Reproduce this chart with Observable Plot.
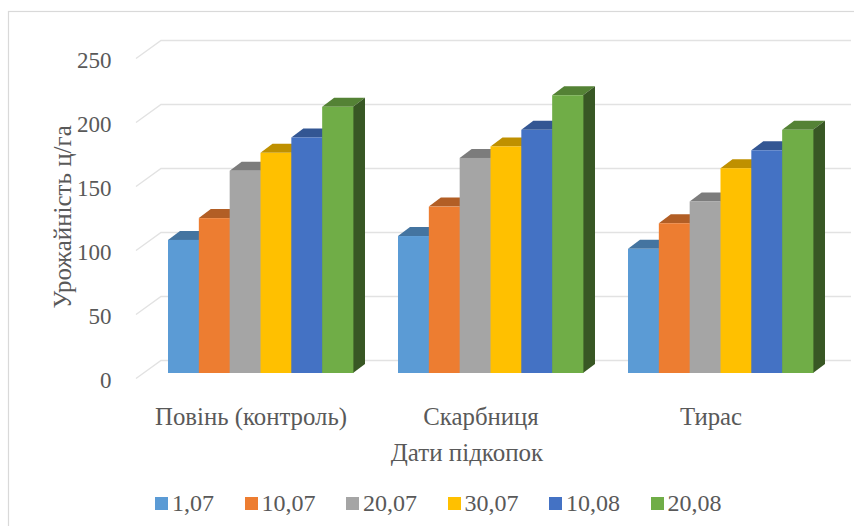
<!DOCTYPE html>
<html lang="uk">
<head>
<meta charset="utf-8">
<script src="https://cdn.jsdelivr.net/npm/d3@7"></script>
<script src="https://cdn.jsdelivr.net/npm/@observablehq/plot@0.6"></script>
<style>
  html, body { margin: 0; padding: 0; background: #fff; }
  #chart { position: relative; width: 854px; height: 526px; overflow: hidden; }
  #legend { position: absolute; left: 155px; top: 491px; display: flex; gap: 30.5px;
    font: 24px "Liberation Serif", serif; color: #595959; line-height: 24px; }
  #legend .item { display: flex; align-items: center; gap: 4px; }
  #legend .swatch { width: 13px; height: 13px; display: inline-block; }
</style>
</head>
<body>
<div id="chart"></div>
<script>
const groups = ["Повінь (контроль)", "Скарбниця", "Тирас"];
const series = ["1,07", "10,07", "20,07", "30,07", "10,08", "20,08"];
const colors = ["#5B9BD5", "#ED7D31", "#A5A5A5", "#FFC000", "#4472C4", "#70AD47"];
const povin = [104, 121, 158, 172, 184, 208];
const skarbnytsia = [107, 130, 168, 177, 190, 217];
const tyras = [97, 117, 134, 160, 174, 190];
const yTicks = [0, 50, 100, 150, 200, 250];
const yLabel = "Урожайність ц/га";
const xLabel = "Дати підкопок";

const table = [povin, skarbnytsia, tyras].flatMap((vals, g) =>
  vals.map((value, s) => ({group: groups[g], series: series[s], value})));

const FONT = "Liberation Serif, serif";
const TEXT = "#595959";
const depth = {x: 12, y: 9};
const wall = {x: 25, y: 18};

function bars3d(index, scales, values) {
  const g = d3.create("svg:g");
  const w = scales.x.bandwidth();
  for (const i of index) {
    const x = values.x[i], x2 = x + w;
    const yTop = Math.min(values.y1[i], values.y2[i]);
    const base = Math.max(values.y1[i], values.y2[i]);
    const c = d3.rgb(values.fill[i]);
    const shade = k => d3.rgb(c.r * k, c.g * k, c.b * k).formatHex();
    g.append("polygon")
      .attr("points", [[x, yTop], [x + depth.x, yTop - depth.y], [x2 + depth.x, yTop - depth.y], [x2, yTop]].join(" "))
      .attr("fill", shade(0.75));
    g.append("polygon")
      .attr("points", [[x2, yTop], [x2 + depth.x, yTop - depth.y], [x2 + depth.x, base - depth.y], [x2, base]].join(" "))
      .attr("fill", shade(0.5));
    g.append("rect")
      .attr("x", x).attr("y", yTop).attr("width", w + 0.4).attr("height", base - yTop)
      .attr("fill", c.formatHex());
  }
  return g.node();
}

function wallGrid(index, scales, values, dimensions) {
  const g = d3.create("svg:g").attr("fill", "none").attr("stroke", "#e2e2e2").attr("stroke-width", 1.4);
  const left = dimensions.marginLeft;
  for (const d of yTicks) {
    const y = scales.y(d);
    g.append("path").attr("d",
      `M${left - 7 - wall.x},${y + 5.5}L${left - 7},${y + 5.5 - wall.y}L${dimensions.width - 3},${y + 5.5 - wall.y}`);
  }
  return g.node();
}

const plot = Plot.plot({
  width: 854,
  height: 526,
  marginLeft: 168,
  marginRight: 41,
  marginTop: 53,
  marginBottom: 153,
  style: {background: "#fff", fontFamily: FONT},
  fx: {domain: groups, paddingInner: 45 / 230, paddingOuter: 0, round: false, axis: null, label: null},
  x: {domain: series, padding: 0, round: false, axis: null, label: null},
  y: {domain: [0, 250], axis: null, label: null},
  color: {domain: series, range: colors},
  marks: [
    Plot.frame({facet: "super", stroke: "#d9d9d9", strokeWidth: 1.2,
      insetLeft: -160, insetTop: -42, insetRight: -60, insetBottom: -170}),
    Plot.frame({facet: "super", render: wallGrid}),
    Plot.barY(table, {x: "series", y: "value", fx: "group", fill: "series", render: bars3d}),
    Plot.axisY(yTicks, {anchor: "left", tickSize: 0, tickPadding: 57, dy: 7.5, fontSize: 23,
      fill: TEXT, label: null, tickFormat: d => String(d)}),
    Plot.axisFx({anchor: "bottom", tickSize: 0, tickPadding: 44, dx: -10, fontSize: 24.8,
      fill: TEXT, label: null, lineAnchor: "middle"}),
    Plot.text([yLabel], {frameAnchor: "left", rotate: -90, dx: -106, dy: 95, fontSize: 25,
      fill: TEXT, facet: "super", text: d => d}),
    Plot.text([xLabel], {frameAnchor: "bottom", dy: 87, dx: -24, fontSize: 25,
      fill: TEXT, facet: "super", text: d => d})
  ]
});

const chart = document.getElementById("chart");
chart.appendChild(plot);

const legend = document.createElement("div");
legend.id = "legend";
series.forEach((name, i) => {
  const item = document.createElement("span");
  item.className = "item";
  const sw = document.createElement("span");
  sw.className = "swatch";
  sw.style.background = colors[i];
  item.appendChild(sw);
  item.appendChild(document.createTextNode(name));
  legend.appendChild(item);
});
chart.appendChild(legend);
</script>
</body>
</html>
